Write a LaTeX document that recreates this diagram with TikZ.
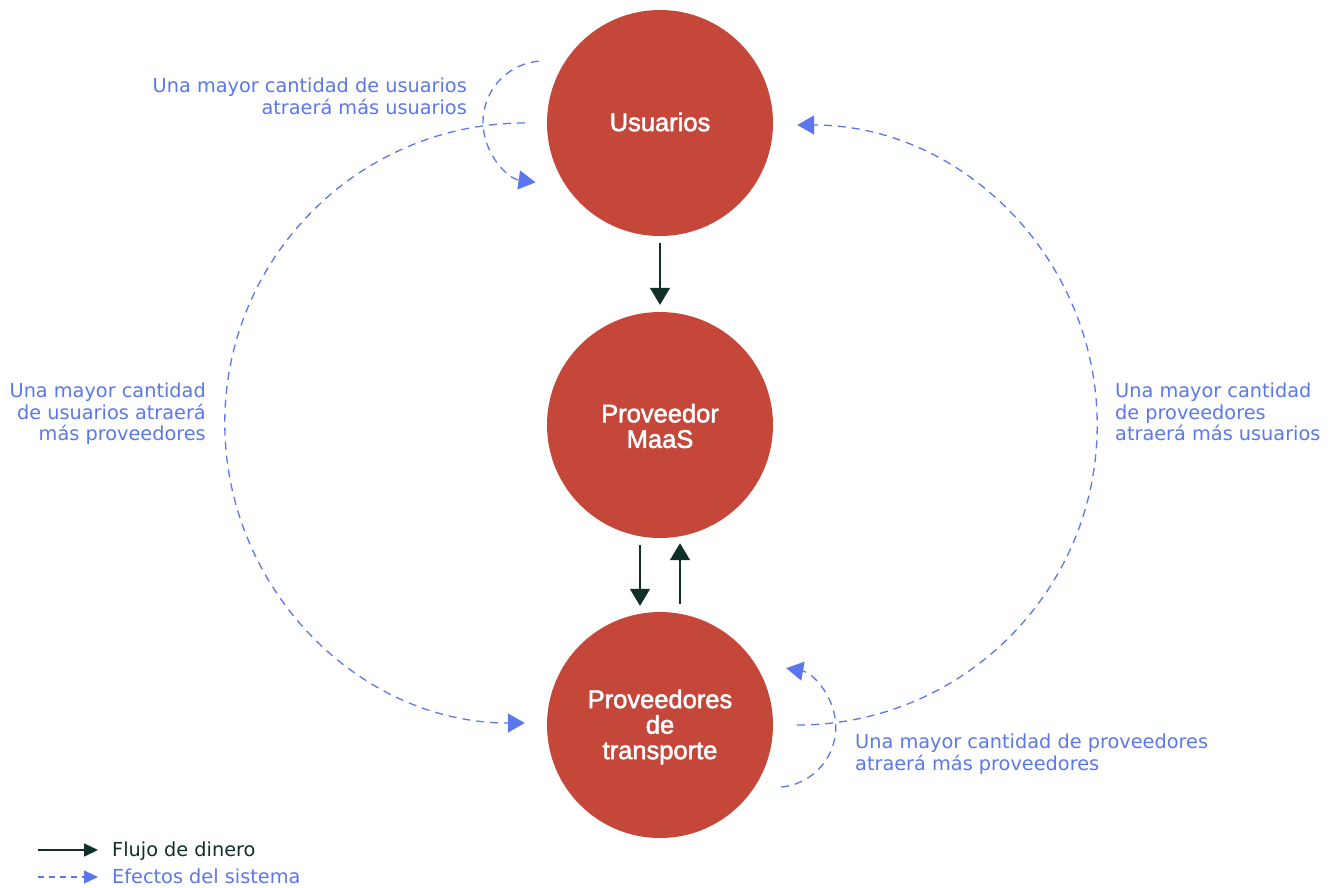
\documentclass[tikz,border=0pt]{standalone}
\usepackage{fontspec}
\setmainfont{DejaVu Sans}
\newfontfamily\nodefont{Liberation Sans}[FakeBold=2]
\usetikzlibrary{arrows.meta}
\definecolor{cred}{HTML}{C4473A}
\definecolor{cblue}{HTML}{5A77EE}
\definecolor{cdark}{HTML}{0F2F28}
\begin{document}
\begin{tikzpicture}[x=1pt,y=-1pt,
 actor/.style={circle,fill=cred,minimum size=226pt,inner sep=0pt},
 actortext/.style={inner sep=0pt,text=white,align=center,font=\nodefont\fontsize{25.5}{25.5}\selectfont},
 money/.style={draw=cdark,line width=1.6pt,-{Triangle[width=20pt,length=17pt]}},
 effect/.style={draw=cblue,line width=1.3pt,dash pattern=on 8pt off 6pt,-{Triangle[width=19pt,length=17pt]}},
 lbl/.style={text=cblue,inner sep=0pt,font=\fontsize{19.3}{21.5}\selectfont},
 legtxt/.style={inner sep=0pt,anchor=base west,font=\fontsize{19.3}{21.5}\selectfont},
]
\useasboundingbox (0,0) rectangle (1332,887);
\node[actor] (u) at (660,123) {};
\node[actor] (m) at (660,425) {};
\node[actor] (t) at (660,725) {};
\node[actortext] (ut) at ([yshift=1pt]u.center) {Usuarios};
\node[actortext] (mt) at ([yshift=-1pt]m.center) {Proveedor\\MaaS};
\node[actortext] (tt) at ([yshift=-2pt]t.center) {Proveedores\\de\\transporte};

% money flows
\draw[money,shorten <=7pt,shorten >=7pt] (u) -- (m);
\draw[money,shorten <=7pt,shorten >=6pt] ([xshift=-20pt]m.south) -- ([xshift=-20pt]t.north);
\draw[money,shorten <=8pt,shorten >=5pt] ([xshift=20pt]t.north) -- ([xshift=20pt]m.south);

% system effects
\coordinate (ul) at (538.7,61.2);
\draw[effect] (ul) arc[start angle=-95,end angle=-262,radius=61];
\draw[effect] ([xshift=-22pt]u.west) arc[start angle=-90,end angle=-270,radius=300];
\draw[effect] ([xshift=24pt]t.east) arc[start angle=90,end angle=-90,radius=300];
\coordinate (tl) at (781,787);
\draw[effect] (tl) arc[start angle=85,end angle=-80,radius=60];

% labels
\node[lbl,anchor=north east,align=right] (l1) at (467,78) {Una mayor cantidad de usuarios\\atraerá más usuarios};
\node[lbl,anchor=north east,align=right] (l2) at (206,383) {Una mayor cantidad\\de usuarios atraerá\\más proveedores};
\node[lbl,anchor=north west,align=left] (l3) at (1115,383) {Una mayor cantidad\\de proveedores\\atraerá más usuarios};
\node[lbl,anchor=north west,align=left] (l4) at (855,734) {Una mayor cantidad de proveedores\\atraerá más proveedores};

% legend
\coordinate (la) at (38,850);
\coordinate (lb) at (98,850);
\draw[draw=cdark,line width=1.5pt,-{Triangle[width=13pt,length=14pt]}] (la) -- (lb);
\node[legtxt,text=cdark] (lt1) at (112,856) {Flujo de dinero};
\coordinate (lc) at (38,877);
\coordinate (ld) at (98,877);
\draw[draw=cblue,line width=1.2pt,dash pattern=on 6pt off 5pt,-{Triangle[width=13pt,length=14pt]}] (lc) -- (ld);
\node[legtxt,text=cblue] (lt2) at (112,883) {Efectos del sistema};
\end{tikzpicture}
\end{document}
